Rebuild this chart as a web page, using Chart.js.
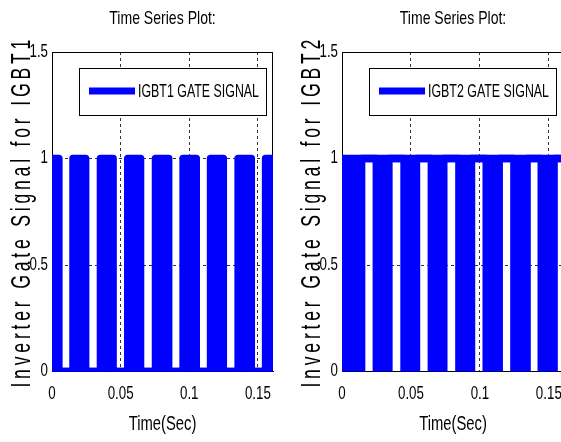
<!DOCTYPE html>
<html><head><meta charset="utf-8">
<script src="https://cdn.jsdelivr.net/npm/chart.js@4/dist/chart.umd.min.js"></script>
<style>
html,body{margin:0;padding:0;background:#fff;overflow:hidden;width:561px;height:442px;}
#wrap{position:relative;width:561px;height:442px;overflow:hidden;background:#fff;}
.c{position:absolute;top:0;height:442px;}
#c1{left:0;width:280px;}
#c2{left:290px;width:300px;}
canvas{display:block;}
</style></head><body>
<div id="wrap">
  <div class="c" id="c1"><canvas id="k1" width="280" height="442"></canvas></div>
  <div class="c" id="c2"><canvas id="k2" width="300" height="442"></canvas></div>
</div>
<script>
// ---------------- data ----------------
const plotTitle = 'Time Series Plot:';
const xAxisTitle = 'Time(Sec)';
const xTickValues = [0, 0.05, 0.1, 0.15];
const xTickLabels = ['0', '0.05', '0.1', '0.15'];
const yTickValues = [0, 0.5, 1, 1.5];
const yTickLabels = ['0', '0.5', '1', '1.5'];
const timeEnd = 0.161;

// IGBT1: gate signal switching (blocks) except in these intervals where it stays at 0
const igbt1Label = 'IGBT1 GATE SIGNAL';
const igbt1YTitle = 'Inverter Gate Signal for IGBT1';
const igbt1OffStart = [0.0050, 0.0245, 0.0445, 0.0645, 0.0850, 0.1051, 0.1248, 0.1452];
const igbt1OffEnd   = [0.0153, 0.0353, 0.0552, 0.0754, 0.0955, 0.1155, 0.1356, 0.1556];

// IGBT2: gate signal switching (blocks) except in these intervals where it stays at 1
const igbt2Label = 'IGBT2 GATE SIGNAL';
const igbt2YTitle = 'Inverter Gate Signal for IGBT2';
const igbt2HighStart = [0.0142, 0.0340, 0.0540, 0.0738, 0.0939, 0.1140, 0.1342, 0.1538];
const igbt2HighEnd   = [0.0249, 0.0450, 0.0648, 0.0848, 0.1046, 0.1247, 0.1445, 0.1610];

// ---------------- condensed text rendering (MATLAB-like narrow look) ----------------
const SX = 0.74, ROT_SX = 0.63, ROT_LS = 6;
(function(){
  const P = CanvasRenderingContext2D.prototype, orig = P.fillText;
  P.fillText = function(text, x, y, maxWidth){
    const m = this.getTransform();
    const rotated = Math.abs(m.b) > 1e-3;
    if (rotated) {
      const natural = this.measureText(text).width;
      const w = (natural + String(text).length * ROT_LS) * ROT_SX;
      const prev = this.letterSpacing;
      try { this.letterSpacing = ROT_LS + 'px'; } catch (e) {}
      const r = orig.call(this, text, x, y, w);
      try { this.letterSpacing = prev; } catch (e) {}
      return r;
    }
    const w = this.measureText(text).width * SX;
    const mw = (maxWidth === undefined || maxWidth === null) ? w : Math.min(maxWidth, w);
    return orig.call(this, text, x, y, mw);
  };
})();

// ---------------- build series ----------------
function buildIgbt1(){
  const pts = [{x:0, y:1}];
  for (let i = 0; i < igbt1OffStart.length; i++){
    pts.push({x:igbt1OffStart[i], y:1}, {x:igbt1OffStart[i], y:0},
             {x:igbt1OffEnd[i], y:0}, {x:igbt1OffEnd[i], y:1});
  }
  pts.push({x:timeEnd, y:1});
  return pts;
}
function buildIgbt2(){
  const pts = [{x:0, y:0}];
  for (let i = 0; i < igbt2HighStart.length; i++){
    pts.push({x:igbt2HighStart[i], y:0}, {x:igbt2HighStart[i], y:1},
             {x:igbt2HighEnd[i], y:1});
    if (igbt2HighEnd[i] < timeEnd) pts.push({x:igbt2HighEnd[i], y:0});
  }
  if (pts[pts.length-1].x < timeEnd) pts.push({x:timeEnd, y:0});
  return pts;
}

const FAM = '"Liberation Sans", Arial, sans-serif';
const BLUE = '#0000ff';

const frame = {
  id: 'frame',
  beforeDatasetsDraw(chart){
    const ca = chart.chartArea, ctx = chart.ctx;
    ctx.save();
    ctx.strokeStyle = '#000'; ctx.lineWidth = 1;
    const l = Math.round(ca.left) + 0.5, t = Math.round(ca.top) + 0.5;
    const r = Math.round(ca.right) - 0.5, b = Math.round(ca.bottom) - 0.5;
    ctx.strokeRect(l, t, r - l, b - t);
    ctx.restore();
  }
};

const boxLegend = {
  id: 'boxLegend',
  afterDatasetsDraw(chart){
    const ca = chart.chartArea, ctx = chart.ctx;
    const ds = chart.data.datasets[0];
    const x = Math.round(ca.left + 26.5), y = Math.round(ca.top + 16.3), w = 188, h = 48;
    ctx.save();
    ctx.fillStyle = '#fff'; ctx.fillRect(x, y, w, h);
    ctx.strokeStyle = '#000'; ctx.lineWidth = 1; ctx.strokeRect(x + 0.5, y + 0.5, w - 1, h - 1);
    ctx.strokeStyle = ds.borderColor; ctx.lineWidth = 7; ctx.lineCap = 'butt';
    ctx.beginPath(); ctx.moveTo(x + 10, y + 23); ctx.lineTo(x + 56, y + 23); ctx.stroke();
    ctx.fillStyle = '#000'; ctx.font = '18px ' + FAM;
    ctx.textBaseline = 'middle'; ctx.textAlign = 'left';
    ctx.fillText(ds.label, x + 59, y + 24, 121);
    ctx.restore();
  }
};

function makeChart(canvasId, mainData, mainLabel, fillMode, envelopeY, yTitle, padRight){
  const envelope = [{x:0, y:envelopeY}, {x:timeEnd, y:envelopeY}];
  return new Chart(document.getElementById(canvasId), {
    type: 'line',
    data: {
      datasets: [
        { label: mainLabel, data: mainData, borderColor: BLUE, backgroundColor: BLUE,
          borderWidth: 7.5, fill: fillMode, pointRadius: 0, tension: 0,
          borderJoinStyle: 'round', borderCapStyle: 'round' },
        { label: '', data: envelope, borderColor: BLUE, backgroundColor: BLUE,
          borderWidth: 7.5, fill: false, pointRadius: 0, borderCapStyle: 'round' }
      ]
    },
    options: {
      responsive: false, animation: false, devicePixelRatio: 1,
      layout: { padding: { left: 0, right: padRight, top: 0, bottom: 0 } },
      plugins: {
        legend: { display: false },
        tooltip: { enabled: false },
        title: { display: true, text: plotTitle, color: '#000', fullSize: false,
                 font: { family: FAM, size: 19, weight: 'normal', lineHeight: 1.2 },
                 padding: { top: 7.6, bottom: 21.6 } }
      },
      scales: {
        x: {
          type: 'linear', min: 0, max: timeEnd,
          afterBuildTicks: s => { s.ticks = xTickValues.map(v => ({ value: v })); },
          afterFit: s => { s.height = 70.5; s.paddingLeft = 0; s.paddingRight = 0; },
          ticks: { callback: (v, i) => xTickLabels[i], color: '#000', padding: 12,
                   maxRotation: 0, autoSkip: false, font: { family: FAM, size: 18 } },
          grid: { color: '#333', drawTicks: false, lineWidth: 1 },
          border: { display: true, color: '#000', width: 1, dash: [3, 3] },
          title: { display: true, text: xAxisTitle, color: '#000',
                   font: { family: FAM, size: 20, lineHeight: 1.2 }, padding: { top: 0, bottom: 6 } }
        },
        y: {
          type: 'linear', min: 0, max: 1.5,
          afterBuildTicks: s => { s.ticks = yTickValues.map(v => ({ value: v })); },
          afterFit: s => { s.width = 52; s.paddingTop = 0; s.paddingBottom = 0; },
          ticks: { callback: (v, i) => yTickLabels[i], color: '#000', padding: 4,
                   font: { family: FAM, size: 18 } },
          grid: { color: '#333', drawTicks: false, lineWidth: 1 },
          border: { display: true, color: '#000', width: 1, dash: [3, 3] },
          title: { display: true, text: yTitle, color: '#000',
                   font: { family: FAM, size: 28, lineHeight: 1.2 }, padding: { top: 5.5, bottom: 0 } }
        }
      }
    },
    plugins: [frame, boxLegend]
  });
}

makeChart('k1', buildIgbt1(), igbt1Label, 'origin', 0, igbt1YTitle, 7);
makeChart('k2', buildIgbt2(), igbt2Label, { value: 1 }, 1, igbt2YTitle, 26);
</script>
</body></html>
